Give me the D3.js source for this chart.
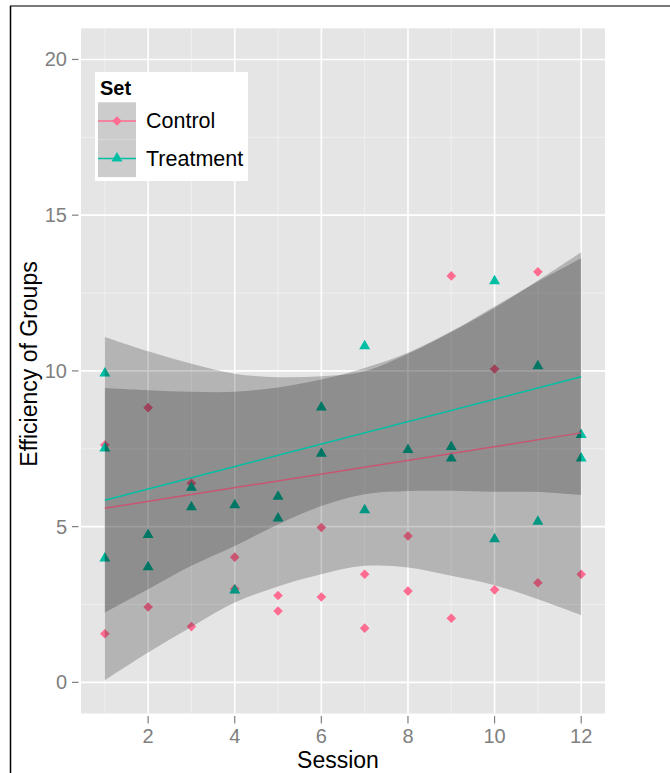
<!DOCTYPE html>
<html>
<head>
<meta charset="utf-8">
<script src="https://d3js.org/d3.v7.min.js"></script>
<style>
	body{
		margin:0;
		background:white;
	}
	text{
		font-family: "Liberation Sans", Arial, sans-serif;
	}
	.tick-label{
		fill:#7f7f7f;
		font-size:20px;
	}
	.axis-title{
		fill:black;
		font-size:23px;
	}
</style>
</head>
<body>
<div id="container"></div>

<script type="text/javascript">

// points
var controlSession = [1,1,2,2,3,3,4,4,5,5,6,6,7,7,8,8,9,9,10,10,11,11,12];
var controlValue   = [7.62,1.56,8.82,2.42,6.39,1.79,4.02,3.0,2.79,2.29,4.97,2.74,3.47,1.74,4.70,2.93,13.05,2.06,10.06,2.97,13.18,3.20,3.47];

var treatSession = [1,1,1,2,2,3,3,4,4,5,5,6,6,7,7,8,9,9,10,10,11,11,12,12];
var treatValue   = [9.94,7.53,4.0,4.75,3.72,6.27,5.64,5.71,2.97,5.98,5.28,8.85,7.36,10.81,5.55,7.48,7.58,7.21,12.9,4.62,10.17,5.18,7.96,7.21];

// smoother (lm) lines and their confidence bands
var fitSession   = [1, 12];
var controlFit   = [5.59, 8.01];
var treatFit     = [5.85, 9.81];

var bandSession  = [1,2,3,4,5,6,7,8,9,10,11,12];
var controlLower = [0.07,0.96,1.78,2.56,3.08,3.47,3.74,3.69,3.42,3.12,2.67,2.16];
var controlUpper = [11.09,10.63,10.23,9.91,9.80,9.83,9.99,10.55,11.25,12.02,12.90,13.81];
var treatLower   = [2.24,2.99,3.74,4.38,5.07,5.66,6.04,6.14,6.15,6.12,6.11,6.01];
var treatUpper   = [9.45,9.38,9.33,9.33,9.47,9.72,10.09,10.58,11.27,12.07,12.87,13.62];

var xTicks = [2,4,6,8,10,12];
var yTicks = [0,5,10,15,20];
var xMinor = [1,3,5,7,9,11];
var yMinor = [2.5,7.5,12.5,17.5];

var setNames  = ["Control", "Treatment"];
var setColors = ["#ff6c91", "#00bfa4"];

var W = 670, H = 773;
var panel = {left:81, right:605, top:28.3, bottom:713.5};

var x = d3.scaleLinear().domain([0.45, 12.55]).range([panel.left, panel.right]);
var y = d3.scaleLinear().domain([-1, 21]).range([panel.bottom, panel.top]);

var svg = d3.select("#container")
	.append("svg")
	.attr("width", W)
	.attr("height", H);

svg.append("rect").attr("width", W).attr("height", H).attr("fill", "white");

// frame lines
svg.append("line").attr("x1", 10).attr("x2", W).attr("y1", 6).attr("y2", 6)
	.attr("stroke", "#4d4d4d").attr("stroke-width", 1.5);
svg.append("line").attr("x1", 10.5).attr("x2", 10.5).attr("y1", 6).attr("y2", H)
	.attr("stroke", "black").attr("stroke-width", 1.5);

// panel + grid
svg.append("rect")
	.attr("x", panel.left).attr("y", panel.top)
	.attr("width", panel.right - panel.left).attr("height", panel.bottom - panel.top)
	.attr("fill", "#e5e5e5");

var grid = svg.append("g");
grid.selectAll("line.xminor").data(xMinor).enter().append("line")
	.attr("x1", d => x(d)).attr("x2", d => x(d))
	.attr("y1", panel.top).attr("y2", panel.bottom)
	.attr("stroke", "#f2f2f2").attr("stroke-width", 0.8);
grid.selectAll("line.yminor").data(yMinor).enter().append("line")
	.attr("y1", d => y(d)).attr("y2", d => y(d))
	.attr("x1", panel.left).attr("x2", panel.right)
	.attr("stroke", "#f2f2f2").attr("stroke-width", 0.8);
grid.selectAll("line.xmajor").data(xTicks).enter().append("line")
	.attr("x1", d => x(d)).attr("x2", d => x(d))
	.attr("y1", panel.top).attr("y2", panel.bottom)
	.attr("stroke", "white").attr("stroke-width", 1.6);
grid.selectAll("line.ymajor").data(yTicks).enter().append("line")
	.attr("y1", d => y(d)).attr("y2", d => y(d))
	.attr("x1", panel.left).attr("x2", panel.right)
	.attr("stroke", "white").attr("stroke-width", 1.6);

// points first, the bands are drawn over them
var diamond  = d3.symbol(d3.symbolSquare, 46);
var triangle = d3.symbol(d3.symbolTriangle, 52);

svg.append("g").selectAll("path")
	.data(d3.range(controlSession.length)).enter().append("path")
	.attr("d", diamond)
	.attr("transform", i => "translate(" + x(controlSession[i]) + "," + y(controlValue[i]) + ") rotate(45)")
	.attr("fill", setColors[0]);

svg.append("g").selectAll("path")
	.data(d3.range(treatSession.length)).enter().append("path")
	.attr("d", triangle)
	.attr("transform", i => "translate(" + x(treatSession[i]) + "," + (y(treatValue[i]) + 0.5) + ")")
	.attr("fill", setColors[1]);

function band(lower, upper){
	return d3.area()
		.curve(d3.curveCatmullRom)
		.x(i => x(bandSession[i]))
		.y0(i => y(lower[i]))
		.y1(i => y(upper[i]))(d3.range(bandSession.length));
}
function fitLine(vals){
	return d3.line()
		.x(i => x(fitSession[i]))
		.y(i => y(vals[i]))(d3.range(fitSession.length));
}

var smooth = [
	{lower: controlLower, upper: controlUpper, fit: controlFit, color: setColors[0]},
	{lower: treatLower, upper: treatUpper, fit: treatFit, color: setColors[1]}
];
smooth.forEach(function(s){
	svg.append("path").attr("d", band(s.lower, s.upper))
		.attr("fill", "black").attr("fill-opacity", 0.21);
	svg.append("path").attr("d", fitLine(s.fit))
		.attr("fill", "none").attr("stroke", s.color).attr("stroke-width", 1.5);
});

// axes
var ax = svg.append("g");
ax.selectAll("line.xt").data(xTicks).enter().append("line")
	.attr("x1", d => x(d)).attr("x2", d => x(d))
	.attr("y1", panel.bottom + 2.5).attr("y2", panel.bottom + 10)
	.attr("stroke", "#7f7f7f").attr("stroke-width", 1.2);
ax.selectAll("text.xt").data(xTicks).enter().append("text")
	.attr("class", "tick-label")
	.attr("x", d => x(d)).attr("y", 743)
	.attr("text-anchor", "middle")
	.text(d => d);

ax.selectAll("line.yt").data(yTicks).enter().append("line")
	.attr("y1", d => y(d)).attr("y2", d => y(d))
	.attr("x1", panel.left - 9).attr("x2", panel.left - 2.5)
	.attr("stroke", "#7f7f7f").attr("stroke-width", 1.2);
ax.selectAll("text.yt").data(yTicks).enter().append("text")
	.attr("class", "tick-label")
	.attr("x", 67).attr("y", d => y(d) + 7)
	.attr("text-anchor", "end")
	.text(d => d);

svg.append("text").attr("class", "axis-title")
	.attr("x", 338).attr("y", 768)
	.attr("text-anchor", "middle")
	.text("Session");
svg.append("text").attr("class", "axis-title")
	.attr("transform", "translate(37,364) rotate(-90)")
	.attr("text-anchor", "middle")
	.text("Efficiency of Groups");

// legend
var legend = svg.append("g").attr("transform", "translate(95,72)");
legend.append("rect").attr("width", 153).attr("height", 109).attr("fill", "white");
legend.append("text").attr("x", 5).attr("y", 23)
	.attr("font-size", "20px").attr("font-weight", "bold")
	.text("Set");

var ks = 37.4;
var keys = legend.selectAll("g.key").data(setNames).enter().append("g")
	.attr("class", "key")
	.attr("transform", (d, i) => "translate(3," + (30.3 + i*ks) + ")");
keys.append("rect").attr("width", 38).attr("height", ks).attr("fill", "#cccccc");
keys.append("line").attr("x1", 0).attr("x2", 38).attr("y1", ks/2).attr("y2", ks/2)
	.attr("stroke", (d, i) => setColors[i]).attr("stroke-width", 1.5);
keys.append("path")
	.attr("d", (d, i) => i == 0 ? diamond() : triangle())
	.attr("transform", (d, i) => "translate(19," + (ks/2) + ")" + (i == 0 ? " rotate(45)" : ""))
	.attr("fill", (d, i) => setColors[i]);
keys.append("text")
	.attr("x", 48).attr("y", ks/2 + 7.5)
	.attr("font-size", "21.5px")
	.text(d => d);

</script>
</body>
</html>
